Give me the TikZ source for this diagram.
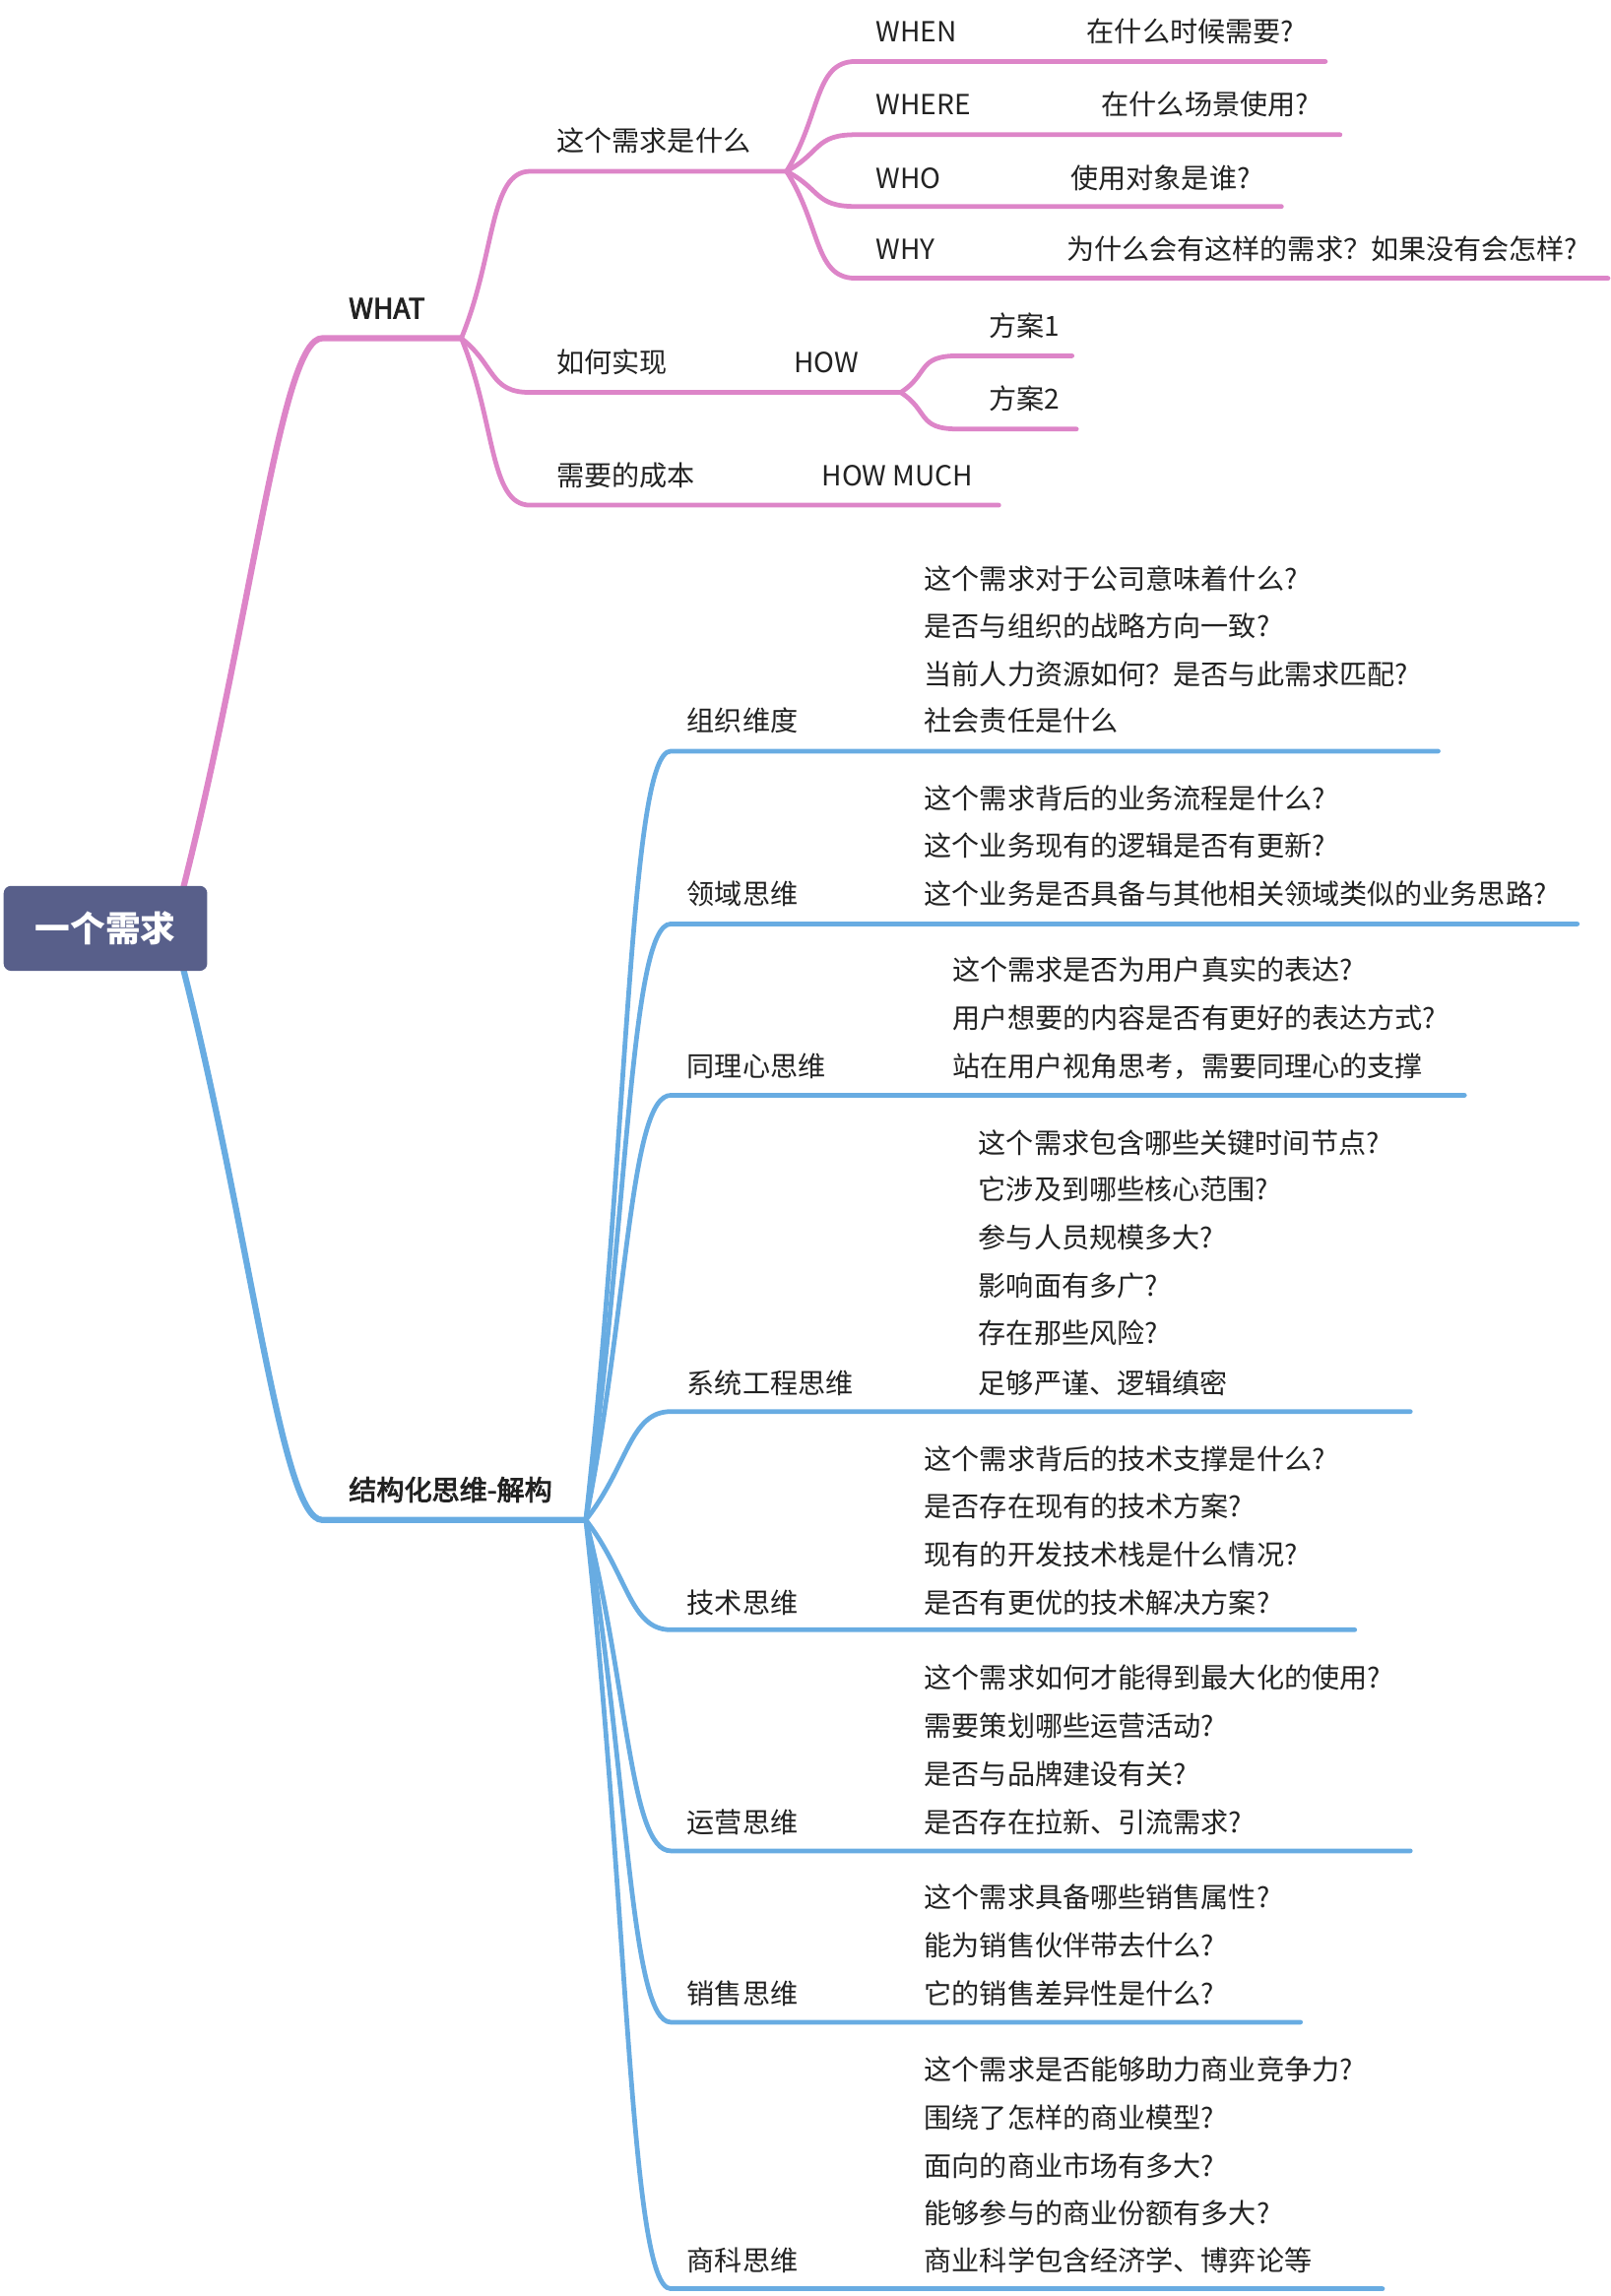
\documentclass[tikz,border=0pt]{standalone}
\usepackage{fontspec}
\setmainfont{Noto Sans CJK SC}
\newfontfamily\semibfont[FakeBold=3]{Noto Sans CJK SC}
\usetikzlibrary{calc}
\definecolor{pinkc}{RGB}{221,133,200}
\definecolor{bluec}{RGB}{104,172,226}
\definecolor{rootc}{RGB}{88,95,138}
\definecolor{txtc}{RGB}{34,34,34}
\newcommand\fsz{\fontsize{18.9}{22}\selectfont}
\newcommand\brpk[4]{\draw[#4] (#1) .. controls ($(#1)!0.5!(#2)$) and ($(#2)+(-28,0)$) .. (#2) -- (#3);}
\tikzset{
  txt/.style={anchor=west, inner sep=0pt, text height=15pt, text depth=2pt, font=\fsz, text=txtc},
  btxt/.style={txt, font=\fsz\semibfont},
  pk/.style={draw=pinkc, line width=3.2pt, line cap=round},
  pkmain/.style={draw=pinkc, line width=4.2pt, line cap=round},
  bl/.style={draw=bluec, line width=3.2pt, line cap=round},
  blmain/.style={draw=bluec, line width=4.2pt, line cap=round},
  rootbox/.style={fill=rootc, rounded corners=5pt, minimum width=139pt, minimum height=58pt, inner sep=0pt, text=white, font=\fontsize{24}{28}\selectfont\bfseries}
}
\begin{document}
\begin{tikzpicture}[x=1pt,y=-1pt]
\useasboundingbox (0,0) rectangle (1100,1568);

% ---------- coordinates ----------
\coordinate (rT) at (125,607);
\coordinate (rB) at (125,661);
\coordinate (cWhat) at (220,231);  \coordinate (hWhat) at (315,231);
\coordinate (cStr) at (220,1038);  \coordinate (hStr) at (400,1038);

\coordinate (cQ) at (362,117);  \coordinate (hQ) at (537,117);
\coordinate (cHow) at (362,268); \coordinate (hHow) at (615,268);
\coordinate (cCost) at (362,345); \coordinate (eCost) at (682,345);

\coordinate (cWhen) at (584,42);  \coordinate (eWhen) at (905,42);
\coordinate (cWhere) at (584,92); \coordinate (eWhere) at (915,92);
\coordinate (cWho) at (584,141);  \coordinate (eWho) at (875,141);
\coordinate (cWhy) at (584,190);  \coordinate (eWhy) at (1098,190);

\coordinate (cP1) at (654,243); \coordinate (eP1) at (732,243);
\coordinate (cP2) at (654,293); \coordinate (eP2) at (735,293);

\coordinate (cB1) at (458,513);  \coordinate (eB1) at (982,513);
\coordinate (cB2) at (458,631);  \coordinate (eB2) at (1077,631);
\coordinate (cB3) at (458,748);  \coordinate (eB3) at (1000,748);
\coordinate (cB4) at (458,964);  \coordinate (eB4) at (963,964);
\coordinate (cB5) at (458,1113); \coordinate (eB5) at (925,1113);
\coordinate (cB6) at (458,1264); \coordinate (eB6) at (963,1264);
\coordinate (cB7) at (458,1381); \coordinate (eB7) at (888,1381);
\coordinate (cB8) at (458,1563); \coordinate (eB8) at (944,1563);

% ---------- connectors ----------
\brpk{rT}{cWhat}{hWhat}{pkmain}
\brpk{rB}{cStr}{hStr}{blmain}

\brpk{hWhat}{cQ}{hQ}{pk}
\brpk{hWhat}{cHow}{hHow}{pk}
\brpk{hWhat}{cCost}{eCost}{pk}

\brpk{hQ}{cWhen}{eWhen}{pk}
\brpk{hQ}{cWhere}{eWhere}{pk}
\brpk{hQ}{cWho}{eWho}{pk}
\brpk{hQ}{cWhy}{eWhy}{pk}

\brpk{hHow}{cP1}{eP1}{pk}
\brpk{hHow}{cP2}{eP2}{pk}

\brpk{hStr}{cB1}{eB1}{bl}
\brpk{hStr}{cB2}{eB2}{bl}
\brpk{hStr}{cB3}{eB3}{bl}
\brpk{hStr}{cB4}{eB4}{bl}
\brpk{hStr}{cB5}{eB5}{bl}
\brpk{hStr}{cB6}{eB6}{bl}
\brpk{hStr}{cB7}{eB7}{bl}
\brpk{hStr}{cB8}{eB8}{bl}

% ---------- root ----------
\node[rootbox] (root) at (72,634) {一个需求};

% ---------- WHAT branch ----------
\node[btxt] (tWhat) at (238,211) {WHAT};
\node[txt] (tQ) at (380,97) {这个需求是什么};
\node[txt] (tHow) at (380,248) {如何实现};
\node[txt] (tHowE) at (542,248) {HOW};
\node[txt] (tCost) at (380,325) {需要的成本};
\node[txt] (tCostE) at (561,325) {HOW MUCH};

\node[txt] (tWhen) at (598,22) {WHEN};
\node[txt] (tWhenQ) at (742,22) {在什么时候需要?};
\node[txt] (tWhere) at (598,72) {WHERE};
\node[txt] (tWhereQ) at (752,72) {在什么场景使用?};
\node[txt] (tWho) at (598,122) {WHO};
\node[txt] (tWhoQ) at (731,122) {使用对象是谁?};
\node[txt] (tWhy) at (598,171) {WHY};
\node[txt] (tWhyQ) at (728,171) {为什么会有这样的需求？如果没有会怎样?};

\node[txt] (tP1) at (675,223) {方案1};
\node[txt] (tP2) at (675,273) {方案2};

% ---------- structured branch ----------
\node[btxt] (tStr) at (238,1018) {结构化思维-解构};

\node[txt] (tB1) at (469,493) {组织维度};
\node[txt] (d11) at (631,396) {这个需求对于公司意味着什么?};
\node[txt] (d12) at (631,428) {是否与组织的战略方向一致?};
\node[txt] (d13) at (631,461) {当前人力资源如何？是否与此需求匹配?};
\node[txt] (d14) at (631,493) {社会责任是什么};

\node[txt] (tB2) at (469,611) {领域思维};
\node[txt] (d21) at (631,546) {这个需求背后的业务流程是什么?};
\node[txt] (d22) at (631,578) {这个业务现有的逻辑是否有更新?};
\node[txt] (d23) at (631,611) {这个业务是否具备与其他相关领域类似的业务思路?};

\node[txt] (tB3) at (469,729) {同理心思维};
\node[txt] (d31) at (650,663) {这个需求是否为用户真实的表达?};
\node[txt] (d32) at (650,696) {用户想要的内容是否有更好的表达方式?};
\node[txt] (d33) at (650,729) {站在用户视角思考，需要同理心的支撑};

\node[txt] (tB4) at (469,945) {系统工程思维};
\node[txt] (d41) at (668,781) {这个需求包含哪些关键时间节点?};
\node[txt] (d42) at (668,813) {它涉及到哪些核心范围?};
\node[txt] (d43) at (668,846) {参与人员规模多大?};
\node[txt] (d44) at (668,879) {影响面有多广?};
\node[txt] (d45) at (668,911) {存在那些风险?};
\node[txt] (d46) at (668,945) {足够严谨、逻辑缜密};

\node[txt] (tB5) at (469,1095) {技术思维};
\node[txt] (d51) at (631,997) {这个需求背后的技术支撑是什么?};
\node[txt] (d52) at (631,1029) {是否存在现有的技术方案?};
\node[txt] (d53) at (631,1062) {现有的开发技术栈是什么情况?};
\node[txt] (d54) at (631,1095) {是否有更优的技术解决方案?};

\node[txt] (tB6) at (469,1245) {运营思维};
\node[txt] (d61) at (631,1146) {这个需求如何才能得到最大化的使用?};
\node[txt] (d62) at (631,1179) {需要策划哪些运营活动?};
\node[txt] (d63) at (631,1212) {是否与品牌建设有关?};
\node[txt] (d64) at (631,1245) {是否存在拉新、引流需求?};

\node[txt] (tB7) at (469,1362) {销售思维};
\node[txt] (d71) at (631,1296) {这个需求具备哪些销售属性?};
\node[txt] (d72) at (631,1329) {能为销售伙伴带去什么?};
\node[txt] (d73) at (631,1362) {它的销售差异性是什么?};

\node[txt] (tB8) at (469,1544) {商科思维};
\node[txt] (d81) at (631,1414) {这个需求是否能够助力商业竞争力?};
\node[txt] (d82) at (631,1447) {围绕了怎样的商业模型?};
\node[txt] (d83) at (631,1480) {面向的商业市场有多大?};
\node[txt] (d84) at (631,1512) {能够参与的商业份额有多大?};
\node[txt] (d85) at (631,1544) {商业科学包含经济学、博弈论等};
\end{tikzpicture}
\end{document}
